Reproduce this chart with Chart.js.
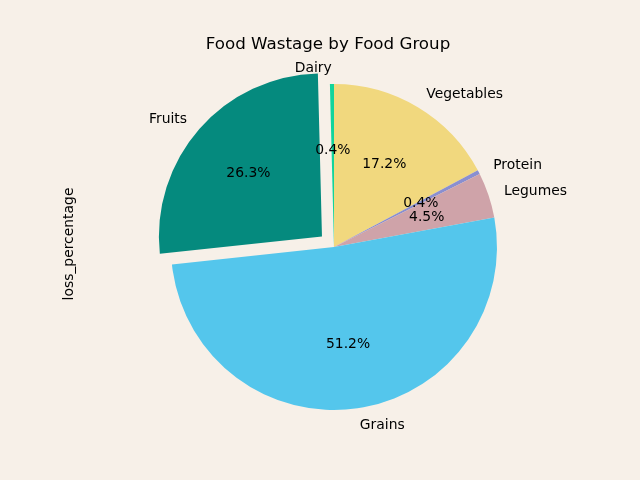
<!DOCTYPE html>
<html>
<head>
<meta charset="utf-8">
<script src="https://cdn.jsdelivr.net/npm/chart.js@4"></script>
<style>
html,body{margin:0;padding:0;background:#f7f0e8;}
#wrap{width:640px;height:480px;position:relative;}
</style>
</head>
<body>
<div id="wrap"><canvas id="c" width="640" height="480"></canvas></div>
<script>
// Data in matplotlib order (counter-clockwise from top)
const categories = ["Dairy", "Fruits", "Grains", "Legumes", "Protein", "Vegetables"];
const lossValues = [0.4, 26.3, 51.2, 4.5, 0.4, 17.2];
const sliceColors = ["#12d49b", "#058a7e", "#54c6ec", "#cfa3a9", "#8a8fd0", "#f1d87e"];
const explodedCategory = "Fruits";
const chartTitle = "Food Wastage by Food Group";
const yAxisLabel = "loss_percentage";

// Chart.js draws clockwise, so reverse order to mimic counter-clockwise layout
const labelsCW = categories.slice().reverse();
const valuesCW = lossValues.slice().reverse();
const colorsCW = sliceColors.slice().reverse();
const R = 163;
const offsetsCW = labelsCW.map(l => l === explodedCategory ? 64 : 0);

const FONT = "'DejaVu Sans', sans-serif";

const textPlugin = {
  id: 'textPlugin',
  afterDatasetsDraw(chart) {
    const ctx = chart.ctx;
    const meta = chart.getDatasetMeta(0);
    const total = valuesCW.reduce((a, b) => a + b, 0);
    ctx.save();
    ctx.fillStyle = '#000';
    meta.data.forEach((arc, i) => {
      const p = arc.getProps(['x', 'y', 'startAngle', 'endAngle', 'outerRadius', 'circumference'], true);
      const mid = (p.startAngle + p.endAngle) / 2;
      const off = (arc.options.offset || 0) / 4;
      const fix = 1 - Math.sin(Math.min(Math.PI, p.circumference || 0));
      const shift = off * (1 + fix);
      const r = p.outerRadius;
      const cx = p.x + Math.cos(mid) * shift;
      const cy = p.y + Math.sin(mid) * shift;
      // percentage
      ctx.font = "13.9px " + FONT;
      ctx.textAlign = 'center';
      ctx.textBaseline = 'middle';
      const pct = (valuesCW[i] / total * 100).toFixed(1) + '%';
      ctx.fillText(pct, cx + Math.cos(mid) * r * 0.6, cy + Math.sin(mid) * r * 0.6 + 1);
      // label
      const lx = cx + Math.cos(mid) * r * 1.1;
      const ly = cy + Math.sin(mid) * r * 1.1 + 1;
      ctx.textAlign = Math.cos(mid) > 0 ? 'left' : 'right';
      ctx.fillText(labelsCW[i], lx, ly);
    });
    // title
    ctx.font = "16.7px " + FONT;
    ctx.textAlign = 'center';
    ctx.textBaseline = 'middle';
    ctx.fillText(chartTitle, 328, 45);
    // y label
    ctx.save();
    ctx.translate(69, 244);
    ctx.rotate(-Math.PI / 2);
    ctx.font = "13.9px " + FONT;
    ctx.fillText(yAxisLabel, 0, 0);
    ctx.restore();
    ctx.restore();
  }
};

new Chart(document.getElementById('c'), {
  type: 'pie',
  data: {
    labels: labelsCW,
    datasets: [{
      data: valuesCW,
      backgroundColor: colorsCW,
      borderWidth: 0,
      offset: offsetsCW,
      hoverOffset: 0,
      radius: R
    }]
  },
  options: {
    responsive: false,
    animation: false,
    events: [],
    layout: { padding: { left: 28, right: 0, top: 14, bottom: 0 } },
    plugins: {
      legend: { display: false },
      title: { display: false },
      tooltip: { enabled: false }
    }
  },
  plugins: [textPlugin]
});
</script>
</body>
</html>
